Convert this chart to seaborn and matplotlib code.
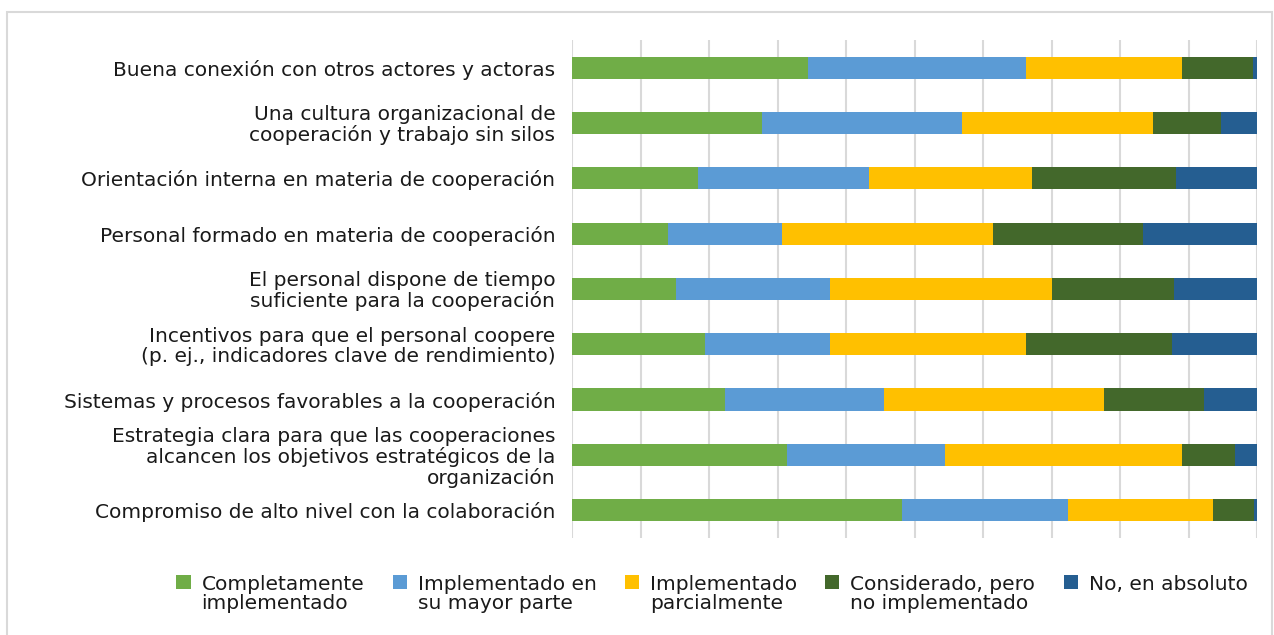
"""
Cooperation readiness chart - 100% stacked horizontal bars with seaborn
"""

import numpy as np
import pandas as pd
import matplotlib.pyplot as plt
import seaborn as sns
from matplotlib.patches import Rectangle, Patch
from matplotlib.legend_handler import HandlerPatch

# ==========================================
# Data
# ==========================================
categories = [
    "Buena conexión con otros actores y actoras",
    "Una cultura organizacional de\ncooperación y trabajo sin silos",
    "Orientación interna en materia de cooperación",
    "Personal formado en materia de cooperación",
    "El personal dispone de tiempo\nsuficiente para la cooperación",
    "Incentivos para que el personal coopere\n(p. ej., indicadores clave de rendimiento)",
    "Sistemas y procesos favorables a la cooperación",
    "Estrategia clara para que las cooperaciones\nalcancen los objetivos estratégicos de la\norganización",
    "Compromiso de alto nivel con la colaboración",
]

series_names = [
    "Completamente\nimplementado",
    "Implementado en\nsu mayor parte",
    "Implementado\nparcialmente",
    "Considerado, pero\nno implementado",
    "No, en absoluto",
]

completamente = [34.4, 27.8, 18.4, 14.0, 15.2, 19.4, 22.3, 31.4, 48.1]
mayor_parte = [31.8, 29.2, 25.0, 16.7, 22.4, 18.2, 23.2, 23.1, 24.3]
parcialmente = [22.8, 27.8, 23.8, 30.7, 32.5, 28.6, 32.1, 34.6, 21.2]
considerado = [10.4, 9.9, 21.0, 22.0, 17.8, 21.4, 14.7, 7.7, 5.9]
no_absoluto = [0.6, 5.3, 11.8, 16.6, 12.1, 12.4, 7.7, 3.2, 0.5]

colors = ["#70AD47", "#5B9BD5", "#FFC000", "#43682B", "#255E91"]

# ==========================================
# Build cumulative table for stacking
# ==========================================
df = pd.DataFrame(
    {
        series_names[0]: completamente,
        series_names[1]: mayor_parte,
        series_names[2]: parcialmente,
        series_names[3]: considerado,
        series_names[4]: no_absoluto,
    },
    index=categories,
)
cum = df.cumsum(axis=1)

# ==========================================
# Plot
# ==========================================
sns.set_style("white")
plt.rcParams["font.family"] = ["DejaVu Sans"]
plt.rcParams["text.color"] = "#1A1A1A"

fig = plt.figure(figsize=(12.74, 6.35), dpi=100)
ax = fig.add_axes([0.449, 0.153, 0.5377, 0.784])

# draw from the longest cumulative layer down so earlier layers sit on top
for name, color in reversed(list(zip(series_names, colors))):
    sns.barplot(
        x=cum[name].values,
        y=categories,
        orient="h",
        color=color,
        width=0.4,
        errorbar=None,
        saturation=1,
        linewidth=0,
        ax=ax,
        zorder=3,
    )

ax.set_xlim(0, 100)
ax.set_ylim(8.5, -0.5)
ax.set_xticks(np.arange(0, 101, 10))
ax.set_xticklabels([])
ax.xaxis.grid(True, color="#D9D9D9", linewidth=1.5, zorder=0)
ax.yaxis.grid(False)
ax.set_axisbelow(True)
for s in ax.spines.values():
    s.set_visible(False)
ax.tick_params(axis="both", length=0)
ax.tick_params(axis="y", pad=12, labelsize=14.5, labelcolor="#1A1A1A")
for lbl in ax.get_yticklabels():
    lbl.set_linespacing(1.05)
ax.set_xlabel("")
ax.set_ylabel("")


# legend squares sit level with the first text line, like Excel does
def top_square(legend, orig_handle, xdescent, ydescent, width, height, fontsize):
    return Rectangle((-xdescent, -ydescent + 0.62 * fontsize), height, height)


handles = [Patch(facecolor=c, edgecolor="none") for c in colors]
legend_labels = [s if "\n" in s else s + "\n " for s in series_names]
leg = fig.legend(
    handles,
    legend_labels,
    loc="center",
    bbox_to_anchor=(712 / 1274, 1 - 594 / 635),
    ncol=5,
    frameon=False,
    fontsize=14.5,
    handlelength=0.7,
    handleheight=0.7,
    handletextpad=0.55,
    columnspacing=1.4,
    labelcolor="#1A1A1A",
    handler_map={Patch: HandlerPatch(patch_func=top_square)},
)
for t in leg.get_texts():
    t.set_linespacing(1.05)

# light frame around the chart area
fig.patches.append(
    Rectangle(
        (7 / 1274, -0.05),
        1265 / 1274,
        1.05 - 12 / 635,
        transform=fig.transFigure,
        fill=False,
        edgecolor="#D9D9D9",
        linewidth=1.5,
    )
)

fig.savefig("out.png", dpi=100, facecolor="white")
print("Saved out.png")
